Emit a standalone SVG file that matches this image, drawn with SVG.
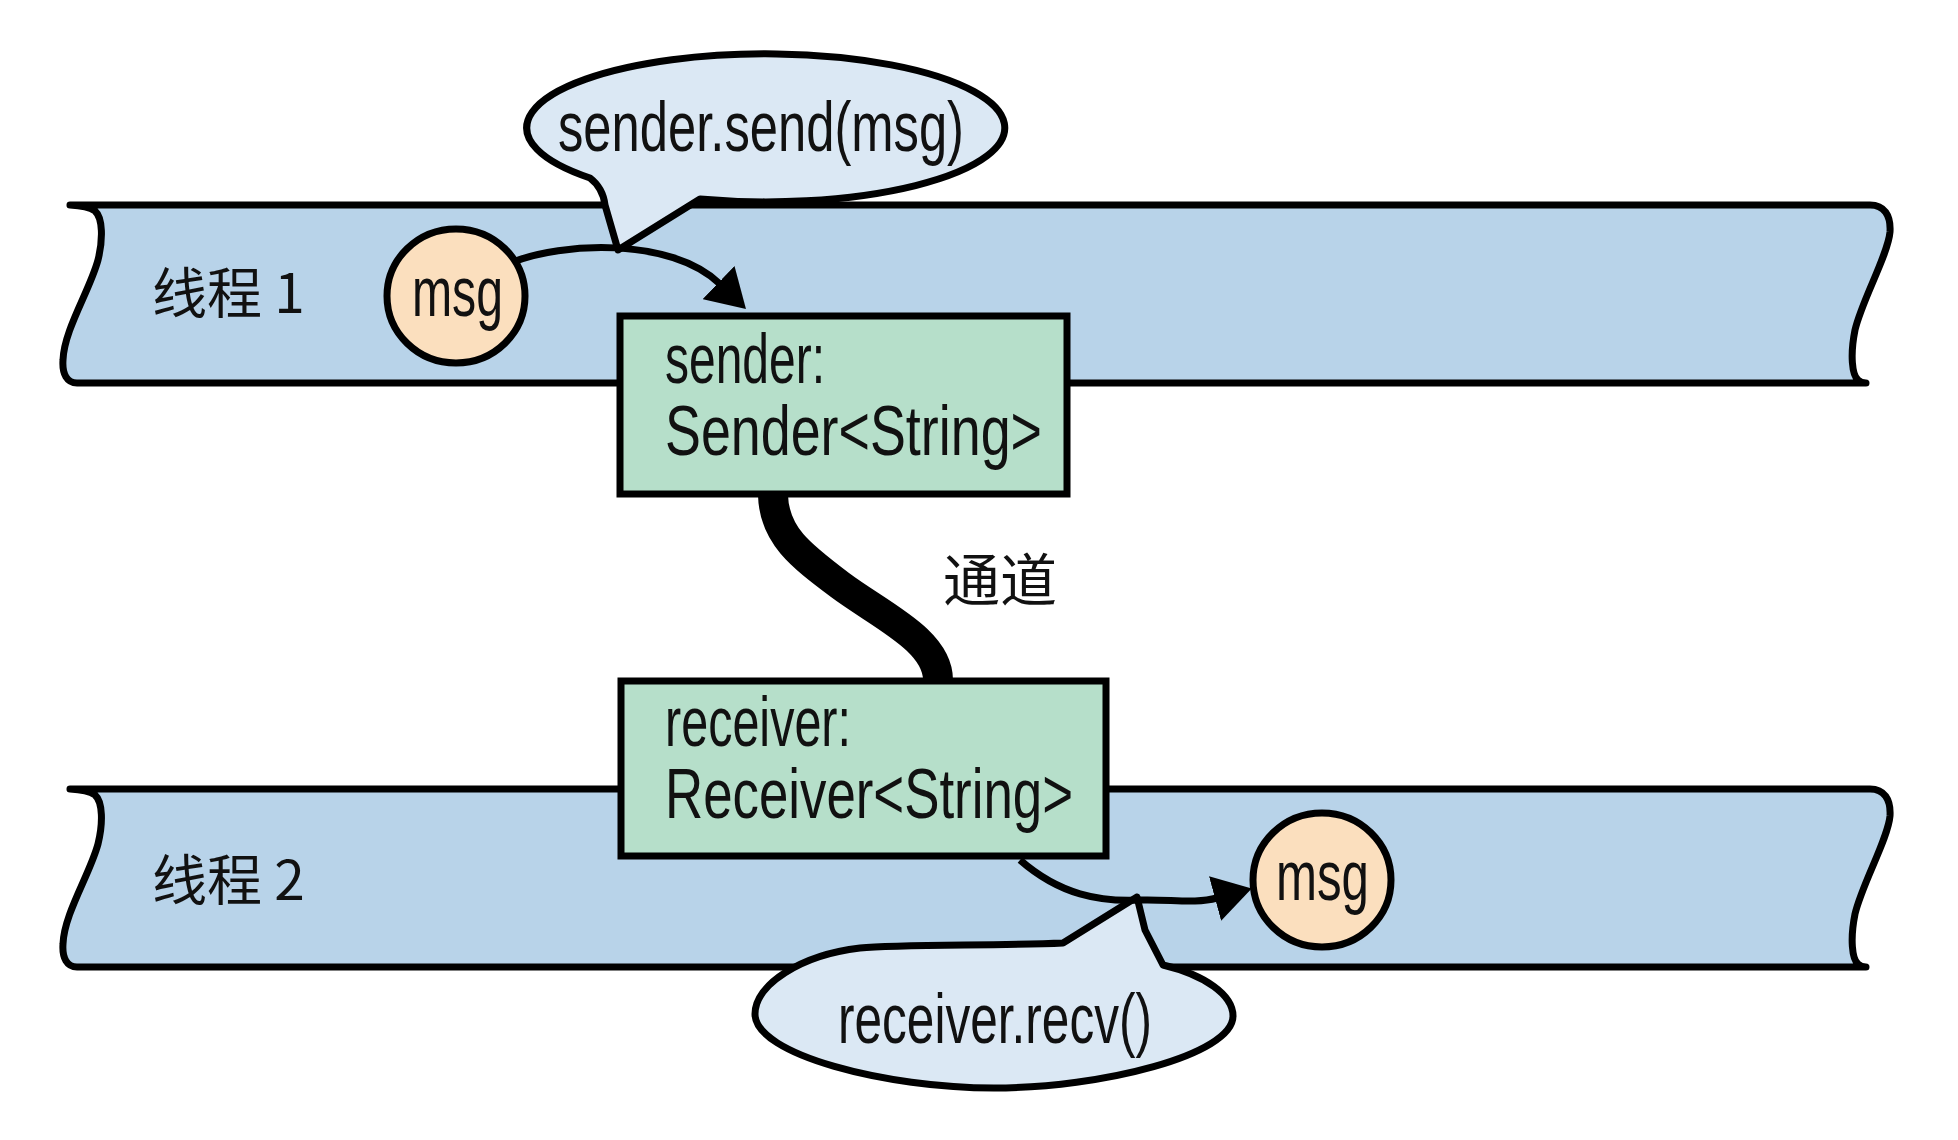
<svg xmlns="http://www.w3.org/2000/svg" width="1958" height="1140" viewBox="0 0 1958 1140">
<defs>
<style>
.band{fill:#b8d3e9;stroke:#000;stroke-width:7;stroke-linejoin:round}
.bubble{fill:#dbe8f4;stroke:#000;stroke-width:7;stroke-linejoin:round}
.box{fill:#b6dfca;stroke:#000;stroke-width:7}
.circ{fill:#fbdfbe;stroke:#000;stroke-width:7}
.lbl{font-family:"Liberation Sans",Arial,sans-serif;font-size:70px;fill:#111}
.cjk{font-family:"Noto Sans CJK SC","Noto Sans",sans-serif;font-size:55px;fill:#111}
.arrow{fill:none;stroke:#000;stroke-width:7}
.chan{fill:none;stroke:#000;stroke-width:30}
</style>
<marker id="head" markerUnits="userSpaceOnUse" markerWidth="40" markerHeight="46" viewBox="0 0 40 46" refX="2" refY="23" orient="auto">
<path d="M0,0 L38,23 L0,46 Z" fill="#000"/>
</marker>
</defs>
<rect width="1958" height="1140" fill="#fff"/>

<g id="thread1">
<path class="band" d="M70,205 L1870,205 C1884,205 1891,215 1890,232 C1888,255 1862,300 1855,330 C1850,355 1852,375 1858,380 Q1861,383 1866,383 L77,383 C67,383 62,374 63,360 C64,330 90,290 98,260 C103,240 103,218 95,211 Q88,206 70,205 Z"/>
<text class="cjk" x="152" y="313">线程 1</text>
</g>

<g id="thread2">
<path class="band" d="M70,205 L1870,205 C1884,205 1891,215 1890,232 C1888,255 1862,300 1855,330 C1850,355 1852,375 1858,380 Q1861,383 1866,383 L77,383 C67,383 62,374 63,360 C64,330 90,290 98,260 C103,240 103,218 95,211 Q88,206 70,205 Z" transform="translate(0,584)"/>
<text class="cjk" x="152" y="900">线程 2</text>
</g>

<g id="bubble-send">
<path class="bubble" d="M618,250 L700,199 A239 74 0 1 0 590,178 Q603,188 605,205 Z"/>
<text class="lbl" x="558" y="151" textLength="406" lengthAdjust="spacingAndGlyphs">sender.send(msg)</text>
</g>

<g id="bubble-recv">
<path class="bubble" d="M1137,897 L1063,943 C1000,946 900,944 860,948 C800,955 755,985 755,1014 C755,1055 887,1088 994,1088 C1101,1088 1233,1055 1233,1016 C1233,995 1205,975 1163,965 L1145,930 Z"/>
<text class="lbl" x="838" y="1043" textLength="314" lengthAdjust="spacingAndGlyphs">receiver.recv()</text>
</g>

<g id="connectors">
<path class="arrow" d="M513,262 C560,243 670,236 720,284" marker-end="url(#head)"/>
<path class="arrow" d="M1020,860 C1060,895 1100,902 1140,900 C1170,899 1195,904 1217,898" marker-end="url(#head)"/>
<path id="channel" class="chan" d="M773,495 C774,535 800,555 840,585 C880,615 938,640 938,680"/>
</g>

<g id="sender">
<rect class="box" x="620" y="316" width="447" height="178"/>
<text class="lbl" x="665" y="383" textLength="160" lengthAdjust="spacingAndGlyphs">sender:</text>
<text class="lbl" x="665" y="455" textLength="377" lengthAdjust="spacingAndGlyphs">Sender&lt;String&gt;</text>
</g>

<g id="receiver">
<rect class="box" x="621" y="681" width="485" height="175"/>
<text class="lbl" x="665" y="746" textLength="186" lengthAdjust="spacingAndGlyphs">receiver:</text>
<text class="lbl" x="665" y="818" textLength="408" lengthAdjust="spacingAndGlyphs">Receiver&lt;String&gt;</text>
</g>

<g id="msg1">
<ellipse class="circ" cx="456" cy="296" rx="69" ry="67"/>
<text class="lbl" x="412" y="316" textLength="91" lengthAdjust="spacingAndGlyphs">msg</text>
</g>

<g id="msg2">
<ellipse class="circ" cx="1322" cy="880" rx="69" ry="67"/>
<text class="lbl" x="1276" y="900" textLength="93" lengthAdjust="spacingAndGlyphs">msg</text>
</g>

<g id="channel-label">
<text class="cjk" x="943" y="601" style="font-size:57px">通道</text>
</g>
</svg>
